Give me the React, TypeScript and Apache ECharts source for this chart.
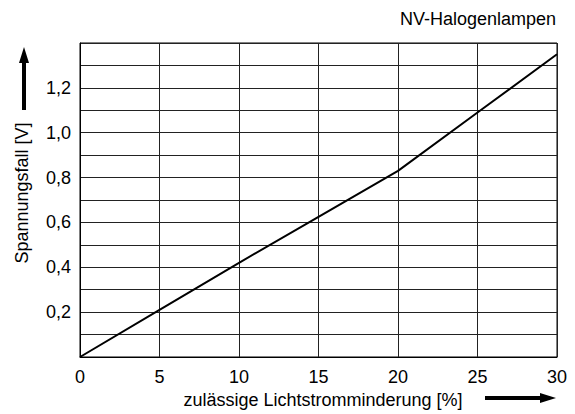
import React, { useEffect, useRef } from "react";
import * as echarts from "echarts";

const xValues = [0, 5, 10, 15, 20, 25, 30];
const yValues = [0, 0.21, 0.42, 0.625, 0.83, 1.09, 1.35];
const yTickLabels = [0.2, 0.4, 0.6, 0.8, 1.0, 1.2];
const titleText = "NV-Halogenlampen";
const xName = "zulässige Lichtstromminderung [%]";
const yName = "Spannungsfall [V]";

const FONT = "'Liberation Sans', Arial, sans-serif";
const FS = 18;

export default function App() {
  const ref = useRef<HTMLDivElement>(null);
  useEffect(() => {
    if (!ref.current) return;
    const chart = echarts.init(ref.current, undefined, { renderer: "svg" });
    const data = xValues.map((x, i) => [x, yValues[i]]);
    chart.setOption({
      animation: false,
      backgroundColor: "#fff",
      textStyle: { fontFamily: FONT },
      grid: {
        left: 80,
        right: 18,
        top: 43,
        bottom: 57,
        show: true,
        borderColor: "#000",
        borderWidth: 1,
      },
      xAxis: {
        type: "value",
        min: 0,
        max: 30,
        interval: 5,
        axisLine: { show: true, lineStyle: { color: "#000", width: 1 } },
        axisTick: { show: false },
        axisLabel: { color: "#000", fontSize: FS, margin: 11, fontFamily: FONT },
        splitLine: { show: true, lineStyle: { color: "#222", width: 1 } },
      },
      yAxis: {
        type: "value",
        min: 0,
        max: 1.4,
        interval: 0.1,
        axisLine: { show: true, lineStyle: { color: "#000", width: 1 } },
        axisTick: { show: false },
        axisLabel: {
          color: "#000",
          fontSize: FS,
          margin: 9,
          fontFamily: FONT,
          formatter: (v: number) => {
            const r = Math.round(v * 10) / 10;
            return yTickLabels.some((t) => Math.abs(t - r) < 1e-6)
              ? r.toFixed(1).replace(".", ",")
              : "";
          },
        },
        splitLine: { show: true, lineStyle: { color: "#222", width: 1 } },
      },
      series: [
        {
          type: "line",
          data,
          symbol: "none",
          lineStyle: { color: "#000", width: 2 },
        },
      ],
      graphic: [
        {
          type: "text",
          x: 556,
          y: 19,
          style: {
            text: titleText,
            font: `${FS}px ${FONT}`,
            fill: "#000",
            align: "right",
            verticalAlign: "middle",
          },
        },
        {
          type: "text",
          x: 323,
          y: 400,
          style: {
            text: xName,
            font: `${FS}px ${FONT}`,
            fill: "#000",
            align: "center",
            verticalAlign: "middle",
          },
        },
        {
          type: "text",
          x: 22,
          y: 193,
          rotation: Math.PI / 2,
          style: {
            text: yName,
            font: `${FS}px ${FONT}`,
            fill: "#000",
            align: "center",
            verticalAlign: "middle",
          },
        },
        {
          type: "line",
          shape: { x1: 24, y1: 110, x2: 24, y2: 60 },
          style: { stroke: "#000", lineWidth: 4 },
        },
        {
          type: "polygon",
          shape: { points: [[24, 47], [19, 63], [29, 63]] },
          style: { fill: "#000" },
        },
        {
          type: "line",
          shape: { x1: 485, y1: 398, x2: 543, y2: 398 },
          style: { stroke: "#000", lineWidth: 4 },
        },
        {
          type: "polygon",
          shape: { points: [[556, 398], [540, 393], [540, 403]] },
          style: { fill: "#000" },
        },
      ],
    });
    return () => chart.dispose();
  }, []);
  return (
    <div
      ref={ref}
      style={{ position: "absolute", left: 0, top: 0, width: 575, height: 414 }}
    />
  );
}
